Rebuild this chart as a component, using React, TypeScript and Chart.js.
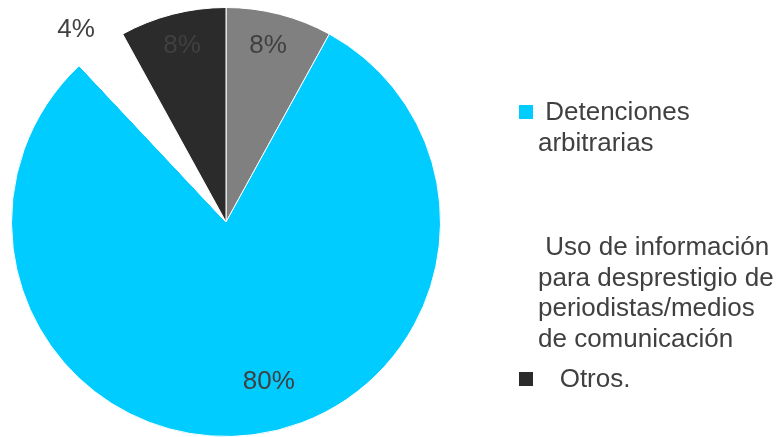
import React, { useEffect, useRef } from "react";
import { Chart, registerables } from "chart.js";

Chart.register(...registerables);

const categories: (string | string[])[] = [
  "",
  [" Detenciones", "arbitrarias"],
  [" Uso de información", "para desprestigio de", "periodistas/medios", "de comunicación"],
  ["   Otros."],
];
const values = [8, 80, 4, 8];
const percentLabels = ["8%", "80%", "4%", "8%"];
const colors = ["#808080", "#00CCFF", "#FFFFFF", "#2B2B2B"];

// label placement (styling): radius factor and angular shift (degrees)
const labelRadius = [0.845, 0.77, 1.135, 0.845];
const labelShift = [-1, -7.8, -2, 0.4];

const TEXT = "#404040";
const FONT = "'Liberation Sans', Arial, sans-serif";

const labelPlugin = {
  id: "pctLabels",
  afterDatasetsDraw(chart: any) {
    const ctx = chart.ctx;
    const meta = chart.getDatasetMeta(0);
    ctx.save();
    ctx.font = `26px ${FONT}`;
    ctx.fillStyle = TEXT;
    ctx.textAlign = "center";
    ctx.textBaseline = "middle";
    meta.data.forEach((arc: any, i: number) => {
      const p = arc.getProps(["x", "y", "startAngle", "endAngle", "outerRadius"], true);
      const a = (p.startAngle + p.endAngle) / 2 + (labelShift[i] * Math.PI) / 180;
      const r = p.outerRadius * labelRadius[i];
      ctx.fillText(percentLabels[i], p.x + Math.cos(a) * r, p.y + Math.sin(a) * r);
    });
    ctx.restore();
  },
};

const legendBaselines = [120, 255, 387];

const legendPlugin = {
  id: "sideLegend",
  afterDraw(chart: any) {
    const ctx = chart.ctx;
    const labels = chart.data.labels as (string | string[])[];
    const bg = chart.data.datasets[0].backgroundColor as string[];
    ctx.save();
    ctx.font = `26px ${FONT}`;
    ctx.textAlign = "left";
    ctx.textBaseline = "alphabetic";
    let k = 0;
    labels.forEach((lab, i) => {
      const lines = Array.isArray(lab) ? lab : [lab];
      if (lines.length === 0 || lines.join("").trim() === "") return;
      const base = legendBaselines[k++];
      ctx.fillStyle = bg[i];
      ctx.fillRect(519, base - 15, 14, 14);
      ctx.fillStyle = TEXT;
      lines.forEach((ln, j) => ctx.fillText(ln, 538, base + j * 30.5));
    });
    ctx.restore();
  },
};

export default function App() {
  const ref = useRef<HTMLCanvasElement>(null);
  useEffect(() => {
    if (!ref.current) return;
    const chart = new Chart(ref.current, {
      type: "pie",
      data: {
        labels: categories as any,
        datasets: [
          {
            data: values,
            backgroundColor: colors,
            borderColor: "#FFFFFF",
            borderWidth: 1,
            hoverOffset: 0,
          },
        ],
      },
      options: {
        responsive: false,
        animation: false,
        layout: { padding: { left: 11, right: 343, top: 7, bottom: 0 } },
        plugins: { legend: { display: false }, tooltip: { enabled: false } },
      },
      plugins: [labelPlugin, legendPlugin],
    });
    return () => chart.destroy();
  }, []);
  return (
    <div style={{ position: "absolute", left: 0, top: 0, width: 784, height: 437, background: "#fff" }}>
      <canvas ref={ref} width={784} height={437} style={{ display: "block" }} />
    </div>
  );
}
